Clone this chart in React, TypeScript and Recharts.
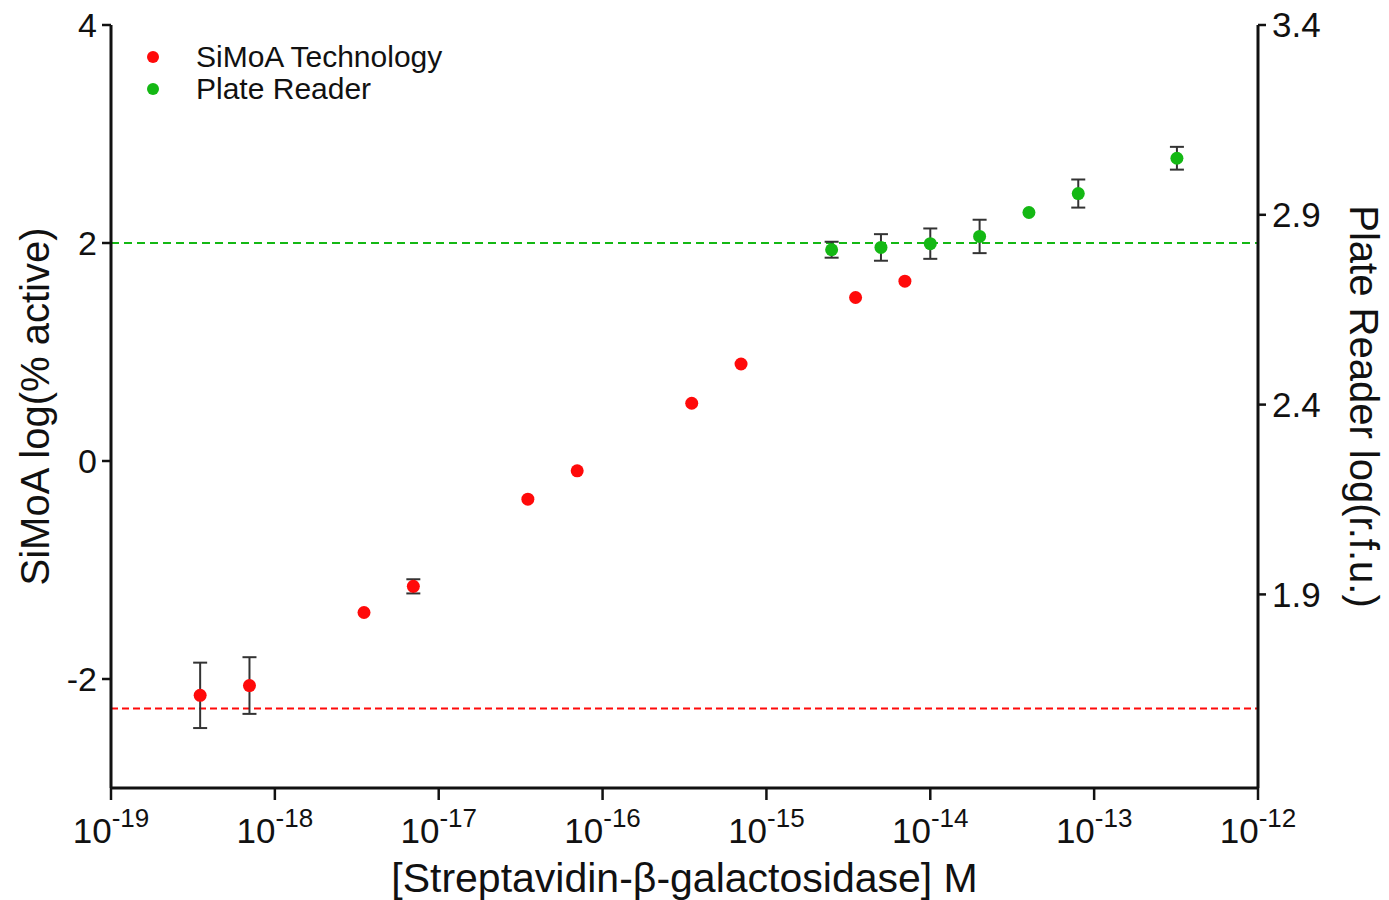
import React from 'react';
import { ComposedChart, Scatter, XAxis, YAxis, ErrorBar, ReferenceLine, Legend } from 'recharts';

// SiMoA series (left axis)
const simoaConc = [3.5e-19, 7e-19, 3.5e-18, 7e-18, 3.5e-17, 7e-17, 3.5e-16, 7e-16, 3.5e-15, 7e-15];
const simoaLog = [-2.15, -2.06, -1.39, -1.15, -0.35, -0.09, 0.53, 0.89, 1.5, 1.65];
const simoaErr = [0.3, 0.26, null, 0.065, null, null, null, null, null, null];

// Plate reader series (right axis)
const plateConc = [2.5e-15, 5e-15, 1e-14, 2e-14, 4e-14, 8e-14, 3.2e-13];
const plateLog = [2.808, 2.814, 2.824, 2.843, 2.906, 2.956, 3.049];
const plateErr = [0.021, 0.035, 0.04, 0.044, null, 0.037, 0.03];

// background levels (left axis units)
const simoaBackground = -2.27;
const plateBackground = 2.0;

const xTicks = [1e-19, 1e-18, 1e-17, 1e-16, 1e-15, 1e-14, 1e-13, 1e-12];
const leftTicks = [-2, 0, 2, 4];
const rightTicks = [1.9, 2.4, 2.9, 3.4];

const FONT = '"Liberation Sans", Arial, sans-serif';
const RED = '#ff0a0a';
const GREEN = '#14b814';

const simoaData = simoaConc.map((x, i) => ({ x, y: simoaLog[i], err: simoaErr[i] }));
const plateData = plateConc.map((x, i) => ({ x, y: plateLog[i], err: plateErr[i] }));

const dot = (color: string) => (props: any) => (
  <circle cx={props.cx} cy={props.cy} r={6.5} fill={color} />
);

const PowerTick = (props: any) => {
  const { x, y, payload } = props;
  const exp = Math.round(Math.log10(payload.value));
  return (
    <text x={x} y={y + 41} textAnchor="middle" fontFamily={FONT} fill="#111">
      <tspan fontSize={35}>10</tspan>
      <tspan fontSize={26} dy={-16}>{exp}</tspan>
    </text>
  );
};

const LeftTitle = (props: any) => {
  const { viewBox } = props;
  const cx = 35;
  const cy = viewBox.y + viewBox.height / 2;
  return (
    <text x={cx} y={cy} transform={`rotate(-90 ${cx} ${cy})`} textAnchor="middle" dominantBaseline="central"
      fontFamily={FONT} fontSize={40} fill="#111">
      SiMoA log(% active)
    </text>
  );
};

const RightTitle = (props: any) => {
  const { viewBox } = props;
  const cx = 1364;
  const cy = viewBox.y + viewBox.height / 2;
  return (
    <text x={cx} y={cy} transform={`rotate(90 ${cx} ${cy})`} textAnchor="middle" dominantBaseline="central"
      fontFamily={FONT} fontSize={40} fill="#111">
      Plate Reader log(r.f.u.)
    </text>
  );
};

const LegendBox = () => (
  <div style={{ fontFamily: FONT, fontSize: 30, color: '#111', lineHeight: '32px' }}>
    {[
      { name: 'SiMoA Technology', color: RED },
      { name: 'Plate Reader', color: GREEN },
    ].map((item) => (
      <div key={item.name} style={{ display: 'flex', alignItems: 'center', height: 32 }}>
        <svg width={24} height={32}>
          <circle cx={12} cy={16} r={6} fill={item.color} />
        </svg>
        <span style={{ marginLeft: 31 }}>{item.name}</span>
      </div>
    ))}
  </div>
);

export default function App() {
  return (
    <div style={{ position: 'absolute', left: 0, top: 0, background: '#fff' }}>
      <ComposedChart width={1389} height={900} margin={{ top: 25, right: 0, left: 0, bottom: 0 }}>
        <XAxis
          dataKey="x"
          type="number"
          scale="log"
          domain={[1e-19, 1e-12]}
          ticks={xTicks}
          allowDataOverflow
          height={112}
          axisLine={{ stroke: '#111', strokeWidth: 3 }}
          tickLine={{ stroke: '#111', strokeWidth: 2.5 }}
          tickSize={12}
          tick={<PowerTick />}
          interval={0}
          label={{
            value: '[Streptavidin-β-galactosidase] M',
            position: 'insideBottom',
            offset: 8,
            style: { fontFamily: FONT, fontSize: 41, fill: '#111' },
          }}
        />
        <YAxis
          yAxisId="left"
          type="number"
          domain={[-3, 4]}
          ticks={leftTicks}
          width={111}
          axisLine={{ stroke: '#111', strokeWidth: 3 }}
          tickLine={{ stroke: '#111', strokeWidth: 2.5 }}
          tickSize={9}
          tickMargin={5}
          tick={{ fontFamily: FONT, fontSize: 34, fill: '#111' }}
          label={<LeftTitle />}
        />
        <YAxis
          yAxisId="right"
          orientation="right"
          type="number"
          domain={[1.39, 3.4]}
          ticks={rightTicks}
          width={131}
          allowDataOverflow
          axisLine={{ stroke: '#111', strokeWidth: 3 }}
          tickLine={{ stroke: '#111', strokeWidth: 2.5 }}
          tickSize={8}
          tickMargin={6}
          tickFormatter={(v: number) => v.toFixed(1)}
          tick={{ fontFamily: FONT, fontSize: 35, fill: '#111' }}
          label={<RightTitle />}
        />
        <ReferenceLine yAxisId="left" y={plateBackground} stroke={GREEN} strokeWidth={2} strokeDasharray="8 5" />
        <ReferenceLine yAxisId="left" y={simoaBackground} stroke={RED} strokeWidth={2} strokeDasharray="7 4" />
        <Legend
          layout="vertical"
          align="center"
          verticalAlign="middle"
          wrapperStyle={{ left: 141, top: 41, width: 'auto' }}
          content={() => <LegendBox />}
        />
        <Scatter
          name="SiMoA Technology"
          yAxisId="left"
          data={simoaData}
          dataKey="y"
          fill={RED}
          shape={dot(RED)}
          isAnimationActive={false}
        >
          <ErrorBar dataKey="err" direction="y" width={7} stroke="#333" strokeWidth={2} />
        </Scatter>
        <Scatter
          name="Plate Reader"
          yAxisId="right"
          data={plateData}
          dataKey="y"
          fill={GREEN}
          shape={dot(GREEN)}
          isAnimationActive={false}
        >
          <ErrorBar dataKey="err" direction="y" width={7} stroke="#333" strokeWidth={2} />
        </Scatter>
      </ComposedChart>
    </div>
  );
}
